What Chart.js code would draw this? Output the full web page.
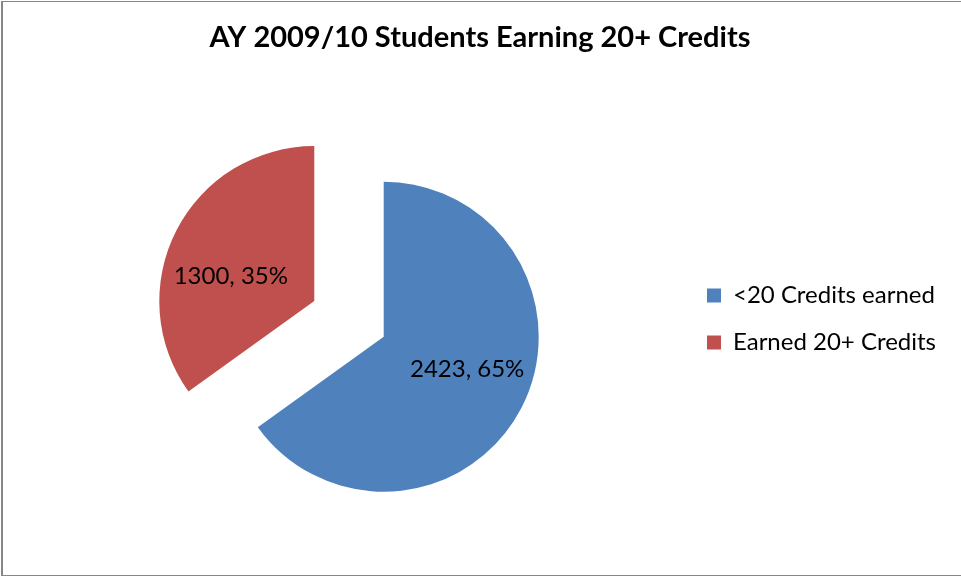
<!DOCTYPE html>
<html>
<head>
<meta charset="utf-8">
<script src="https://cdn.jsdelivr.net/npm/chart.js@4"></script>
<style>
  html, body { margin: 0; padding: 0; background: #fff; overflow: hidden; }
  #wrap { position: relative; width: 961px; height: 577px; overflow: hidden; }
  #frame { position: absolute; left: 1px; top: 1px; width: 970px; height: 575px;
           border: 1px solid #868686; border-left-width: 2px; box-sizing: border-box; pointer-events: none; }
</style>
</head>
<body>
<div id="wrap">
  <canvas id="chart"></canvas>
  <div id="frame"></div>
</div>
<script>
// Datos del gráfico
const categorias = ['<20 Credits earned', 'Earned 20+ Credits'];
const estudiantes = [2423, 1300];
const colores = ['#4F81BD', '#C0504D'];

const FUENTE = 'Lato, "Open Sans", sans-serif';

// Separa cada porción del centro (pie "explotado")
const explotar = {
    id: 'explotar',
    afterDatasetsUpdate(chart, args, opts) {
        chart.getDatasetMeta(0).data.forEach(arc => {
            const mid = (arc.startAngle + arc.endAngle) / 2;
            arc.x += Math.cos(mid) * opts.distancia;
            arc.y += Math.sin(mid) * opts.distancia;
        });
    }
};

// Etiquetas "valor, porcentaje" dentro de cada porción
const etiquetas = {
    id: 'etiquetas',
    afterDatasetsDraw(chart, args, opts) {
        const ctx = chart.ctx;
        const valores = chart.data.datasets[0].data;
        const total = valores.reduce((a, b) => a + b, 0);
        ctx.save();
        ctx.font = opts.font;
        ctx.fillStyle = '#000';
        ctx.textAlign = 'center';
        ctx.textBaseline = 'middle';
        chart.getDatasetMeta(0).data.forEach((arc, i) => {
            const mid = (arc.startAngle + arc.endAngle) / 2 + opts.giro * Math.PI / 180;
            const r = arc.outerRadius * opts.factor;
            const pct = Math.round(valores[i] / total * 100);
            ctx.fillText(valores[i] + ', ' + pct + '%',
                arc.x + Math.cos(mid) * r,
                arc.y + Math.sin(mid) * r + opts.dy);
        });
        ctx.restore();
    }
};

new Chart(document.getElementById('chart'), {
    type: 'pie',
    data: {
        labels: categorias,
        datasets: [{
            data: estudiantes,
            backgroundColor: colores,
            borderWidth: 0
        }]
    },
    options: {
        responsive: true,
        maintainAspectRatio: false,
        animation: false,
        radius: 155,
        layout: { padding: { left: 14, right: 15, top: 0, bottom: 19 } },
        plugins: {
            title: {
                display: true,
                text: 'AY 2009/10 Students Earning 20+ Credits',
                color: '#000',
                font: { family: FUENTE, size: 29, weight: 'bold' },
                padding: { top: 20, bottom: 25 }
            },
            legend: {
                position: 'right',
                fullSize: false,
                labels: {
                    color: '#000',
                    font: { family: FUENTE, size: 24 },
                    boxWidth: 14,
                    boxHeight: 14,
                    padding: 23
                }
            },
            tooltip: { enabled: false },
            explotar: { distancia: 39 },
            etiquetas: { font: '24px ' + FUENTE, factor: 0.57, giro: -8, dy: 4 }
        }
    },
    plugins: [explotar, etiquetas]
});
</script>
</body>
</html>
